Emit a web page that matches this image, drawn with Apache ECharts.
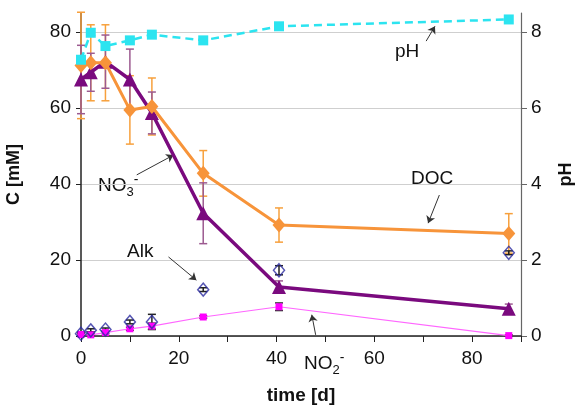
<!DOCTYPE html>
<html lang="en">
<head>
    <meta charset="UTF-8">
    <title>C and pH over time</title>
    <style type="text/css">
        html, body { margin: 0; padding: 0; background: #fff; }
        #chart { width: 576px; height: 410px; }
    </style>
</head>
<body>
    <div id="chart"></div>
    <script src="https://cdn.jsdelivr.net/npm/echarts@6/dist/echarts.min.js"></script>
    <script type="text/javascript">
        // sampling days
        var days = [0, 2, 5, 10, 14.5, 25, 40.5, 87.5];
        // concentrations [mM] and errors
        var doc = [71.2, 71.9, 71.9, 59.5, 60.4, 42.8, 29.2, 27.0];
        var docErr = [14, 10, 10, 9, 7.5, 6, 4.5, 5.2];
        var no3 = [67.5, 69.4, 72.2, 67.5, 58.7, 32.3, 12.9, 7.2];
        var no3Err = [9, 5, 7, 8, 5.5, 8, 1.6, 1.2];
        var alk = [0.6, 1.5, 1.7, 3.7, 3.7, 12.2, 17.3, 21.9];
        var alkErr = [0.4, 0.4, 0.4, 0.5, 2, 0.5, 1.2, 0.5];
        var no2 = [0.4, 0.3, 0.9, 1.9, 2.6, 5.0, 7.7, 0.1];
        var no2Err = [0.3, 0.3, 0.3, 0.4, 0.8, 0.3, 1, 0.2];
        // pH (right axis)
        var ph = [7.27, 7.98, 7.63, 7.78, 7.93, 7.78, 8.15, 8.33];

        var font = 'Liberation Sans, Arial, sans-serif';

        function pairs(ys) {
            return days.map(function (d, i) { return [d, ys[i]]; });
        }
        function errData(ys, es) {
            return days.map(function (d, i) { return [d, ys[i] - es[i], ys[i] + es[i]]; });
        }
        function errSeries(ys, es, color) {
            return {
                type: 'custom',
                data: errData(ys, es),
                z: 1,
                silent: true,
                clip: false,
                encode: { x: 0, y: [1, 2] },
                renderItem: function (params, api) {
                    var lo = api.coord([api.value(0), api.value(1)]);
                    var hi = api.coord([api.value(0), api.value(2)]);
                    var w = 4;
                    var st = { stroke: color, lineWidth: 1.5 };
                    return {
                        type: 'group',
                        children: [
                            { type: 'line', shape: { x1: lo[0], y1: lo[1], x2: hi[0], y2: hi[1] }, style: st },
                            { type: 'line', shape: { x1: lo[0] - w, y1: lo[1], x2: lo[0] + w, y2: lo[1] }, style: st },
                            { type: 'line', shape: { x1: hi[0] - w, y1: hi[1], x2: hi[0] + w, y2: hi[1] }, style: st }
                        ]
                    };
                }
            };
        }
        function arrow(from, to) {
            return {
                silent: true,
                symbol: ['none', 'arrow'],
                symbolSize: 7,
                label: { show: false },
                lineStyle: { color: '#333', width: 1, type: 'solid' },
                emphasis: { disabled: true },
                data: [[{ coord: from }, { coord: to }]]
            };
        }
        var chemRich = {
            n: { fontSize: 19, fontFamily: font, fill: '#111', lineHeight: 26, verticalAlign: 'middle' },
            s: { fontSize: 13, fontFamily: font, fill: '#111', lineHeight: 26, verticalAlign: 'bottom' },
            p: { fontSize: 14, fontFamily: font, fill: '#111', lineHeight: 26, verticalAlign: 'top' }
        };

        var myChart = echarts.init(document.getElementById('chart'));
        var option = {
            animation: false,
            textStyle: { fontFamily: font },
            grid: { left: 81, right: 55, top: 13, bottom: 74, containLabel: false, outerBoundsMode: 'none' },
            xAxis: {
                type: 'value',
                min: 0,
                max: 90,
                interval: 10,
                name: 'time [d]',
                nameLocation: 'middle',
                nameGap: 50,
                nameTextStyle: { fontSize: 19, fontWeight: 'bold', color: '#111' },
                axisLine: { lineStyle: { color: '#222', width: 1.5 } },
                axisTick: { length: 6, lineStyle: { color: '#222' } },
                axisLabel: {
                    fontSize: 19, color: '#111', margin: 13,
                    formatter: function (v) { return v % 20 === 0 ? v : ''; }
                },
                splitLine: { show: false }
            },
            yAxis: [
                {
                    type: 'value',
                    min: 0,
                    max: 85,
                    interval: 20,
                    name: 'C [mM]',
                    nameLocation: 'middle',
                    nameRotate: 90,
                    nameGap: 58,
                    nameTextStyle: { fontSize: 18, fontWeight: 'bold', color: '#111' },
                    axisLine: { show: true, lineStyle: { color: '#222', width: 1.5 } },
                    axisTick: { show: true, length: 5, lineStyle: { color: '#222' } },
                    axisLabel: { fontSize: 19, color: '#111', margin: 10, showMaxLabel: false },
                    splitLine: { show: true, showMaxLine: false, lineStyle: { color: '#cfcfcf', width: 1.2 } }
                },
                {
                    type: 'value',
                    min: 0,
                    max: 8.5,
                    interval: 2,
                    name: 'pH',
                    nameLocation: 'middle',
                    nameRotate: 90,
                    nameGap: 36,
                    nameTextStyle: { fontSize: 18, fontWeight: 'bold', color: '#111' },
                    axisLine: { show: true, lineStyle: { color: '#666', width: 1.2 } },
                    axisTick: { show: true, length: 6, lineStyle: { color: '#666' } },
                    axisLabel: { fontSize: 19, color: '#111', margin: 10, showMaxLabel: false },
                    splitLine: { show: false }
                }
            ],
            graphic: [
                { type: 'text', left: 395, top: 42, style: { text: 'pH', font: '19px ' + font, fill: '#111' } },
                { type: 'text', left: 411, top: 169, style: { text: 'DOC', font: '19px ' + font, fill: '#111' } },
                { type: 'text', left: 127, top: 242, style: { text: 'Alk', font: '19px ' + font, fill: '#111' } },
                { type: 'text', left: 98, top: 173, style: { text: '{n|NO}{s|3}{p|-}', rich: chemRich } },
                { type: 'text', left: 304, top: 351, style: { text: '{n|NO}{s|2}{p|-}', rich: chemRich } }
            ],
            series: [
                errSeries(doc, docErr, '#F7A03C'),
                errSeries(no3, no3Err, '#9C5A90'),
                errSeries(alk, alkErr, '#222'),
                errSeries(no2, no2Err, '#333'),
                {
                    name: 'NO2',
                    type: 'line',
                    data: pairs(no2),
                    symbol: 'rect',
                    symbolSize: 7,
                    z: 3,
                    itemStyle: { color: '#FF00FF' },
                    lineStyle: { color: '#FF66FF', width: 1.2 },
                    markLine: arrow([48, 0.3], [47.2, 5.6])
                },
                {
                    name: 'Alk',
                    type: 'scatter',
                    data: pairs(alk),
                    symbol: 'diamond',
                    symbolSize: [11, 13],
                    z: 4,
                    itemStyle: { color: 'rgba(255,255,255,0)', borderColor: '#2C2CA0', borderWidth: 1.5 },
                    markLine: arrow([17.9, 20.8], [23.6, 14.7])
                },
                {
                    name: 'NO3',
                    type: 'line',
                    data: pairs(no3),
                    symbol: 'triangle',
                    symbolSize: 14,
                    z: 5,
                    itemStyle: { color: '#7A0A7E' },
                    lineStyle: { color: '#7A0A7E', width: 3.5 },
                    markLine: arrow([11.4, 42.4], [18.9, 47.6])
                },
                {
                    name: 'DOC',
                    type: 'line',
                    data: pairs(doc),
                    symbol: 'diamond',
                    symbolSize: [13, 15],
                    z: 6,
                    itemStyle: { color: '#F7943A' },
                    lineStyle: { color: '#F7943A', width: 3 },
                    markLine: arrow([73.3, 37.1], [71.0, 29.7])
                },
                {
                    name: 'pH',
                    type: 'line',
                    yAxisIndex: 1,
                    data: pairs(ph),
                    symbol: 'rect',
                    symbolSize: 10,
                    z: 7,
                    itemStyle: { color: '#2CE4F0' },
                    lineStyle: { color: '#2CE4F0', width: 2.5, type: [8, 5] },
                    markLine: arrow([70.6, 7.76], [72.4, 8.15])
                }
            ]
        };
        myChart.setOption(option);
    </script>
</body>
</html>
